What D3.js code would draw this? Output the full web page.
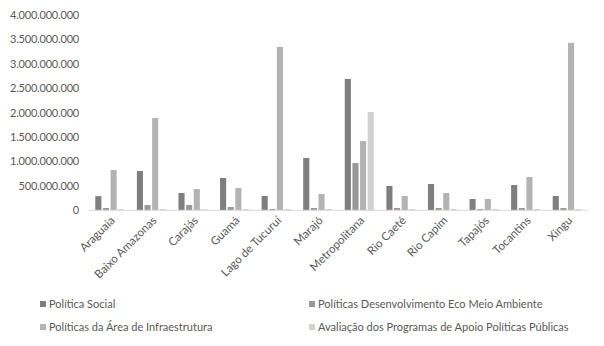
<!DOCTYPE html>
<html><head><meta charset="utf-8">
<script src="https://cdnjs.cloudflare.com/ajax/libs/d3/7.8.5/d3.min.js"></script>
<style>body{margin:0;background:#fff}svg{display:block}</style>
</head><body>
<script>
const categories = ["Araguaia","Baixo Amazonas","Carajás","Guamá","Lago de Tucuruí","Marajó","Metropolitana","Rio Caeté","Rio Capim","Tapajós","Tocantins","Xingu"];
const seriesNames = ["Política Social","Políticas Desenvolvimento Eco Meio Ambiente","Políticas da Área de Infraestrutura","Avaliação dos Programas de Apoio Políticas Públicas"];
const politicaSocial = [290e6, 805e6, 354e6, 662e6, 293e6, 1072e6, 2690e6, 498e6, 539e6, 232e6, 518e6, 293e6];
const desenvolvimento = [47e6, 108e6, 108e6, 68e6, 27e6, 47e6, 969e6, 47e6, 47e6, 27e6, 47e6, 47e6];
const infraestrutura = [826e6, 1890e6, 436e6, 457e6, 3346e6, 334e6, 1420e6, 293e6, 354e6, 232e6, 682e6, 3430e6];
const avaliacao = [25e6, 25e6, 22e6, 27e6, 27e6, 27e6, 2014e6, 27e6, 27e6, 27e6, 27e6, 27e6];
const yTicks = [0, 500e6, 1000e6, 1500e6, 2000e6, 2500e6, 3000e6, 3500e6, 4000e6];
const series = [politicaSocial, desenvolvimento, infraestrutura, avaliacao];
const colors = ["#7f7f7f", "#999999", "#b3b3b3", "#d1d1d1"];

const W = 604, H = 346;
const font = "Lato, 'Open Sans', sans-serif";
const svg = d3.select("body").append("svg").attr("width", W).attr("height", H);
const pLeft = 89, pRight = 588, pTop = 15, pBottom = 210.3;

const x0 = d3.scaleBand().domain(categories).range([pLeft, pRight]).padding(0);
const gw = 29;
const x1 = d3.scaleBand().domain(d3.range(4)).range([-gw/2, gw/2]).paddingInner(0.2).paddingOuter(0);
const y = d3.scaleLinear().domain([0, 4e9]).range([pBottom, pTop]);

const fmt = v => v === 0 ? "0" : d3.format(",")(v).replace(/,/g, ".");

// y labels
svg.append("g").selectAll("text").data(yTicks).join("text")
  .attr("x", 79).attr("y", d => y(d)).attr("dy", "0.35em")
  .attr("text-anchor", "end").attr("font-family", font).attr("font-size", 11)
  .attr("letter-spacing", -0.2)
  .attr("fill", "#595959").text(fmt);

// bars
const g = svg.append("g");
categories.forEach((c, i) => {
  const cx = x0(c) + x0.bandwidth() / 2;
  series.forEach((s, k) => {
    g.append("rect")
      .attr("x", cx + x1(k)).attr("width", x1.bandwidth())
      .attr("y", y(s[i])).attr("height", y(0) - y(s[i]))
      .attr("fill", colors[k]);
  });
});

// x axis line
svg.append("line").attr("x1", pLeft).attr("x2", pRight).attr("y1", pBottom).attr("y2", pBottom)
  .attr("stroke", "#d9d9d9").attr("stroke-width", 1);

// x labels
svg.append("g").selectAll("text").data(categories).join("text")
  .attr("transform", d => `translate(${x0(d) + x0.bandwidth()/2 + 3},${pBottom + 8}) rotate(-45)`)
  .attr("text-anchor", "end").attr("dy", "0.35em")
  .attr("font-family", font).attr("font-size", 11.5).attr("fill", "#595959").text(d => d);

// legend
const legPos = [[40, 304], [309, 304], [40, 327], [309, 327]];
seriesNames.forEach((n, k) => {
  const [lx, ly] = legPos[k];
  svg.append("rect").attr("x", lx).attr("y", ly - 3).attr("width", 6).attr("height", 6).attr("fill", colors[k]);
  svg.append("text").attr("x", lx + 9).attr("y", ly).attr("dy", "0.35em")
    .attr("font-family", font).attr("font-size", 11).attr("fill", "#595959").text(n);
});
</script>
</body></html>
